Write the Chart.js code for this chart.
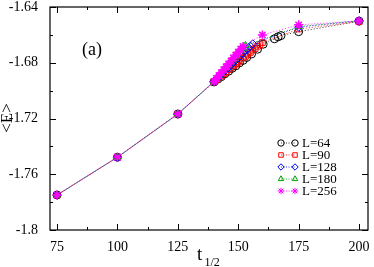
<!DOCTYPE html>
<html><head><meta charset="utf-8">
<script src="https://cdn.jsdelivr.net/npm/chart.js@4/dist/chart.umd.min.js"></script>
<style>html,body{margin:0;padding:0;background:#fff}#wrap{width:374px;height:267px;position:relative}</style>
</head><body><div id="wrap"><canvas id="c"></canvas></div>
<script>
const xTicks = [75, 100, 125, 150, 175, 200];
const xMinor = [87.5, 112.5, 137.5, 162.5, 187.5];
const yTicks = [-1.8, -1.76, -1.72, -1.68, -1.64];
const yMinor = [-1.78, -1.74, -1.70, -1.66];
const seriesLabels = ["L=64", "L=90", "L=128", "L=180", "L=256"];

const t64 = [75,100,125,140,141.5,143,144.5,146,147.5,149,150.5,152,153.5,155.5,158,160.3,165,166.5,167.7,175,200];
const e64 = [-1.7749,-1.7478,-1.7168,-1.6938,-1.6918,-1.6900,-1.6879,-1.6861,-1.6840,-1.6822,-1.6801,-1.6783,-1.6762,-1.6737,-1.6703,-1.6667,-1.6628,-1.6614,-1.6605,-1.6577,-1.6502];

const t90 = [75,100,125,140,141,142,143,144,145,146,147,148,149,150,151,152,153,154,155,156,157,158,159,160,175,200];
const e90 = [-1.7750,-1.7477,-1.7167,-1.6935,-1.6922,-1.6906,-1.6894,-1.6878,-1.6866,-1.6850,-1.6838,-1.6822,-1.6810,-1.6794,-1.6782,-1.6766,-1.6754,-1.6738,-1.6726,-1.6710,-1.6698,-1.6682,-1.6670,-1.6655,-1.6558,-1.6505];

const t128 = [75,100,125,140,141,142,143,144,145,146,147,148,149,150,151,152,153,154,155,156,175,200];
const e128 = [-1.7749,-1.7478,-1.7168,-1.6935,-1.6917,-1.6901,-1.6883,-1.6867,-1.6849,-1.6833,-1.6815,-1.6799,-1.6781,-1.6765,-1.6747,-1.6731,-1.6714,-1.6697,-1.6680,-1.6664,-1.6545,-1.6498];

const t180 = [75,100,125,140,141,142,143,144,145,146,147,148,149,150,151,152,153,175,200];
const e180 = [-1.7749,-1.7478,-1.7168,-1.6935,-1.6914,-1.6895,-1.6874,-1.6855,-1.6834,-1.6815,-1.6794,-1.6775,-1.6754,-1.6735,-1.6714,-1.6695,-1.6675,-1.6540,-1.6500];

const t256 = [75,100,125,140,141,142,143,144,145,146,147,148,149,150,151,152,160,175,200];
const e256 = [-1.7749,-1.7478,-1.7168,-1.6934,-1.6913,-1.6892,-1.6871,-1.6850,-1.6829,-1.6808,-1.6787,-1.6766,-1.6745,-1.6724,-1.6703,-1.6683,-1.6600,-1.6528,-1.6500];

const tSets = [t64, t90, t128, t180, t256];
const eSets = [e64, e90, e128, e180, e256];
const colors = ['#000000', '#ff0000', '#0000ff', '#00a000', '#ff00ff'];
const styles = ['circle', 'rect', 'rectRot', 'triangle', 'star'];

const datasets = seriesLabels.map((lab, i) => ({
  label: lab,
  data: tSets[i].map((t, k) => ({x: t, y: eSets[i][k]})),
  showLine: true,
  borderColor: colors[i],
  backgroundColor: 'rgba(0,0,0,0)',
  borderWidth: 0.8,
  borderDash: [1, 2],
  borderDashOffset: i * 0.6,
  pointStyle: styles[i],
  pointRadius: i === 4 ? 4.5 : 4,
  pointBorderWidth: i === 4 ? 1.5 : 1,
  pointBorderColor: colors[i],
  pointBackgroundColor: 'rgba(0,0,0,0)',
  order: 4 - i,
  tension: 0
}));

const SERIF = "'Liberation Serif', 'DejaVu Serif', serif";

function drawSym(ctx, style, r, x, y, color, bw) {
  ctx.save();
  ctx.strokeStyle = color; ctx.fillStyle = 'rgba(0,0,0,0)'; ctx.lineWidth = bw;
  if (Chart.helpers && Chart.helpers.drawPoint) {
    Chart.helpers.drawPoint(ctx, {pointStyle: style, radius: r, rotation: 0, borderWidth: bw}, x, y);
  } else {
    ctx.beginPath(); ctx.arc(x, y, r, 0, Math.PI * 2); ctx.stroke();
  }
  ctx.restore();
}

const decor = {
  id: 'decor',
  beforeDraw(chart) {
    const c = chart.ctx;
    c.save(); c.fillStyle = '#fff'; c.fillRect(0, 0, chart.width, chart.height); c.restore();
  },
  afterDatasetsDraw(chart) {
    const c = chart.ctx, a = chart.chartArea, xs = chart.scales.x, ys = chart.scales.y;
    c.save();
    c.strokeStyle = '#000'; c.lineWidth = 1.2;
    c.strokeRect(a.left, a.top, a.right - a.left, a.bottom - a.top);
    c.lineWidth = 1;
    const tick = (px, len, vertical) => {
      c.beginPath();
      if (vertical) {
        c.moveTo(px, a.bottom); c.lineTo(px, a.bottom - len);
        c.moveTo(px, a.top); c.lineTo(px, a.top + len);
      } else {
        c.moveTo(a.left, px); c.lineTo(a.left + len, px);
        c.moveTo(a.right, px); c.lineTo(a.right - len, px);
      }
      c.stroke();
    };
    xTicks.forEach(v => tick(Math.round(xs.getPixelForValue(v)) + 0.5, 6, true));
    xMinor.forEach(v => tick(Math.round(xs.getPixelForValue(v)) + 0.5, 3, true));
    yTicks.forEach(v => tick(Math.round(ys.getPixelForValue(v)) + 0.5, 6, false));
    yMinor.forEach(v => tick(Math.round(ys.getPixelForValue(v)) + 0.5, 3, false));

    // legend
    const lx1 = 281, lx2 = 295, tx = 302, y0 = 143, dy = 12;
    c.font = "13px " + SERIF; c.textBaseline = 'middle'; c.textAlign = 'left';
    chart.data.datasets.forEach((ds, i) => {
      const y = y0 + dy * i;
      c.save();
      c.strokeStyle = ds.borderColor; c.lineWidth = 0.8; c.setLineDash([1, 1.5]);
      c.beginPath(); c.moveTo(lx1, y); c.lineTo(lx2, y); c.stroke();
      c.restore();
      drawSym(c, ds.pointStyle, 3.2, lx1, y, ds.borderColor, 1);
      drawSym(c, ds.pointStyle, 3.2, lx2, y, ds.borderColor, 1);
      c.fillStyle = '#000';
      c.fillText(ds.label, tx, y + 0.5);
    });

    // panel label
    c.font = "18px " + SERIF; c.textAlign = 'left'; c.textBaseline = 'middle';
    c.fillText('(a)', 82, 50);

    // axis titles
    c.font = "19px " + SERIF; c.textAlign = 'left'; c.textBaseline = 'alphabetic';
    c.fillText('t', 197, 260);
    c.font = "12px " + SERIF;
    c.fillText('1/2', 204.5, 266);

    c.save();
    c.translate(8, 118); c.rotate(-Math.PI / 2);
    c.font = "17px " + SERIF; c.textAlign = 'center'; c.textBaseline = 'middle';
    c.fillText('<E>', 0, 0);
    c.restore();
    c.restore();
  }
};

new Chart(document.getElementById('c'), {
  type: 'scatter',
  data: { datasets },
  options: {
    responsive: true, maintainAspectRatio: false, animation: false,
    devicePixelRatio: 1,
    layout: { padding: { top: 7, right: 2, left: 0, bottom: 0 } },
    plugins: { legend: { display: false }, tooltip: { enabled: false } },
    scales: {
      x: {
        type: 'linear', min: 72.1, max: 203.7,
        grid: { display: false }, border: { display: false },
        afterBuildTicks: s => { s.ticks = xTicks.map(v => ({ value: v })); },
        afterFit: s => { s.height = 37; s.paddingLeft = 0; s.paddingRight = 0; },
        ticks: { color: '#000', font: { family: SERIF, size: 14 }, padding: 1, maxRotation: 0,
                 callback: v => String(v) }
      },
      y: {
        type: 'linear', min: -1.8, max: -1.64,
        grid: { display: false }, border: { display: false },
        afterBuildTicks: s => { s.ticks = yTicks.map(v => ({ value: v })); },
        afterFit: s => { s.width = 50; s.paddingTop = 0; s.paddingBottom = 0; },
        ticks: { color: '#000', font: { family: SERIF, size: 14 }, padding: 4,
                 callback: v => String(Number(v.toFixed(2))) }
      }
    }
  },
  plugins: [decor]
});
</script></body></html>
